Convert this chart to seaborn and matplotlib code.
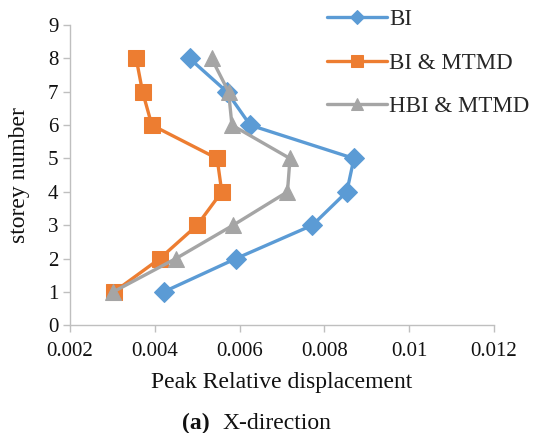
import seaborn as sns
import matplotlib.pyplot as plt
import pandas as pd

# Storey-wise peak relative displacement (X-direction)
storey = [1, 2, 3, 4, 5, 6, 7, 8]
bi = [0.00421, 0.00592, 0.00772, 0.00853, 0.00870, 0.00625, 0.00570, 0.00482]
bi_mtmd = [0.00304, 0.00412, 0.00500, 0.00558, 0.00547, 0.00393, 0.00371, 0.00356]
hbi_mtmd = [0.00302, 0.00450, 0.00585, 0.00713, 0.00719, 0.00582, 0.00574, 0.00534]
series_names = ["BI", "BI & MTMD", "HBI & MTMD"]

colors = ["#5B9BD5", "#ED7D31", "#A5A5A5"]
markers = ["D", "s", "^"]
msizes = [10, 12, 12]

sns.set_style("ticks")
plt.rcParams['font.family'] = ['Liberation Serif', 'DejaVu Serif']

fig = plt.figure(figsize=(5.35, 4.33), dpi=100)
ax = fig.add_axes([0.131, 0.249, 0.792, 0.693])

for vals, name, c, m, ms in zip([bi, bi_mtmd, hbi_mtmd], series_names, colors, markers, msizes):
    df = pd.DataFrame({"disp": vals, "storey": storey})
    sns.lineplot(data=df, x="disp", y="storey", sort=False, ax=ax, color=c,
                 marker=m, markersize=ms, markeredgecolor=c, linewidth=2.4,
                 label=name)

ax.set_xlim(0.002, 0.012)
ax.set_ylim(0, 9)
ax.set_xticks([0.002, 0.004, 0.006, 0.008, 0.01, 0.012])
ax.set_xticklabels(["0.002", "0.004", "0.006", "0.008", "0.01", "0.012"])
ax.set_yticks(range(0, 10))

for s in ["top", "right"]:
    ax.spines[s].set_visible(False)
for s in ["left", "bottom"]:
    ax.spines[s].set_color("#BFBFBF")
    ax.spines[s].set_linewidth(1.0)
ax.tick_params(axis="both", colors="#BFBFBF", labelcolor="#111111",
               labelsize=15, length=5, width=1.0, pad=3.5)
ax.tick_params(axis="x", pad=7)

ax.set_xlabel("Peak Relative displacement", fontsize=17, color="#111111", labelpad=8)
ax.set_ylabel("storey number", fontsize=17, color="#111111", labelpad=13)

ax.legend(loc="upper left", bbox_to_anchor=(0.594, 1.0), bbox_transform=fig.transFigure,
          frameon=False, fontsize=16.5, handlelength=2.6, labelspacing=0.98,
          handletextpad=0.1, borderaxespad=0, markerscale=0.7)

fig.text(0.340, 0.01, "(a)", fontsize=17, fontweight="bold", color="#111111", ha="left", va="baseline")
fig.text(0.415, 0.01, "X-direction", fontsize=17, color="#111111", ha="left", va="baseline")

fig.savefig("out.png", dpi=100)
